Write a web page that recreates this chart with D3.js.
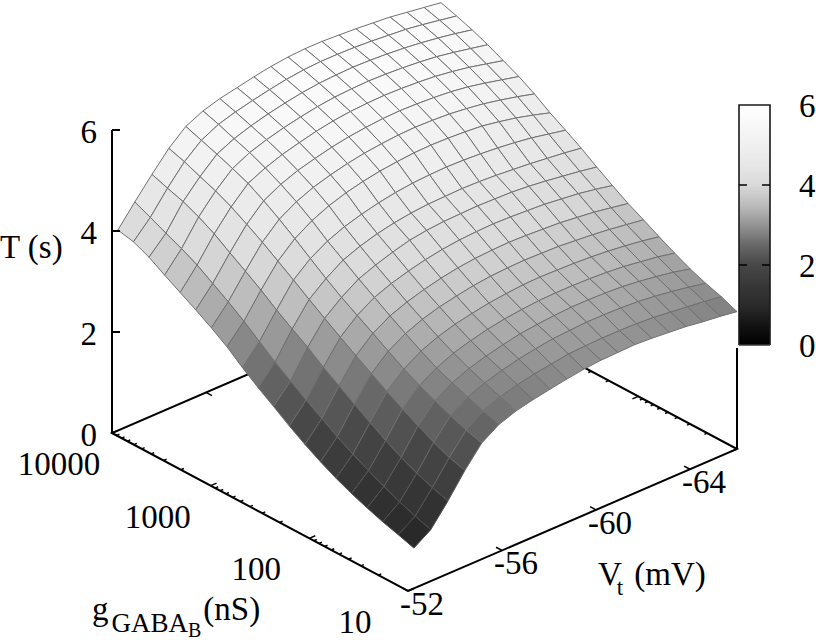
<!DOCTYPE html>
<html>
<head>
<meta charset="utf-8">
<script src="https://cdn.jsdelivr.net/npm/d3@7"></script>
<style>
  body { margin: 0; background: #fff; }
  text { font-family: "Liberation Serif", serif; font-size: 33px; fill: #000; }
</style>
</head>
<body>
<svg id="chart" width="816" height="640"></svg>
<script>
// grid the surface was sampled on
var vtGrid = [-52.25, -52.97, -53.70, -54.42, -55.14, -55.87, -56.59, -57.32, -58.04, -58.76,
              -59.49, -60.21, -60.93, -61.66, -62.38, -63.11, -63.83, -64.55, -65.28, -66];
var gGrid = [10000, 6952, 4833, 3360, 2336, 1624, 1129, 785, 546, 379,
             264, 183, 127, 88.6, 61.6, 42.8, 29.8, 20.7, 14.4, 10];

// T (s), one row per gGrid value, one column per vtGrid value
var periodRows = [
  [3.97,4.38,4.78,5.15,5.44,5.60,5.70,5.77,5.84,5.90,5.94,5.96,5.96,5.94,5.92,5.89,5.86,5.81,5.76,5.71],
  [3.90,4.24,4.67,5.05,5.33,5.50,5.60,5.68,5.75,5.81,5.85,5.87,5.87,5.86,5.84,5.81,5.78,5.73,5.67,5.61],
  [3.76,4.09,4.57,4.92,5.22,5.38,5.49,5.58,5.65,5.71,5.75,5.77,5.78,5.77,5.75,5.72,5.68,5.63,5.57,5.50],
  [3.57,3.95,4.43,4.80,5.10,5.27,5.38,5.47,5.54,5.60,5.64,5.66,5.67,5.66,5.64,5.61,5.57,5.51,5.44,5.37],
  [3.39,3.79,4.26,4.65,4.97,5.13,5.25,5.34,5.42,5.48,5.52,5.54,5.55,5.54,5.52,5.49,5.44,5.38,5.30,5.22],
  [3.21,3.59,4.05,4.47,4.79,4.97,5.10,5.19,5.27,5.33,5.37,5.40,5.41,5.40,5.38,5.35,5.30,5.23,5.15,5.07],
  [3.02,3.39,3.85,4.28,4.59,4.79,4.93,5.03,5.11,5.17,5.21,5.24,5.25,5.24,5.22,5.18,5.13,5.06,4.98,4.89],
  [2.81,3.17,3.64,4.07,4.37,4.58,4.73,4.84,4.92,4.98,5.02,5.05,5.06,5.05,5.03,5.00,4.94,4.87,4.78,4.68],
  [2.56,2.93,3.41,3.86,4.14,4.34,4.48,4.58,4.66,4.72,4.76,4.78,4.79,4.78,4.76,4.73,4.69,4.64,4.57,4.50],
  [2.33,2.69,3.20,3.64,3.91,4.13,4.26,4.36,4.43,4.48,4.51,4.52,4.53,4.52,4.50,4.47,4.44,4.40,4.36,4.31],
  [2.12,2.48,3.00,3.43,3.70,3.92,4.05,4.16,4.25,4.30,4.33,4.34,4.35,4.34,4.33,4.30,4.26,4.21,4.16,4.10],
  [1.90,2.27,2.77,3.22,3.51,3.72,3.85,3.95,4.03,4.09,4.13,4.15,4.16,4.15,4.13,4.11,4.07,4.03,3.97,3.90],
  [1.70,2.07,2.57,3.02,3.32,3.52,3.65,3.75,3.83,3.89,3.93,3.95,3.96,3.95,3.93,3.91,3.87,3.83,3.77,3.71],
  [1.52,1.87,2.37,2.83,3.13,3.33,3.47,3.57,3.64,3.70,3.74,3.76,3.77,3.76,3.75,3.72,3.69,3.65,3.60,3.55],
  [1.36,1.69,2.17,2.64,2.94,3.15,3.29,3.39,3.46,3.52,3.56,3.59,3.60,3.59,3.58,3.56,3.53,3.49,3.44,3.38],
  [1.22,1.53,1.98,2.46,2.78,2.98,3.13,3.23,3.31,3.37,3.41,3.44,3.45,3.45,3.44,3.42,3.39,3.34,3.29,3.22],
  [1.10,1.38,1.81,2.29,2.64,2.85,2.99,3.09,3.17,3.24,3.28,3.31,3.33,3.33,3.32,3.30,3.26,3.21,3.15,3.07],
  [0.99,1.24,1.66,2.13,2.51,2.73,2.87,2.97,3.05,3.11,3.16,3.18,3.20,3.20,3.19,3.17,3.13,3.08,3.02,2.95],
  [0.90,1.12,1.54,1.99,2.39,2.62,2.76,2.85,2.92,2.97,3.02,3.04,3.05,3.05,3.04,3.02,2.98,2.94,2.90,2.85],
  [0.80,1.02,1.44,1.90,2.30,2.52,2.64,2.72,2.78,2.84,2.89,2.92,2.93,2.94,2.92,2.89,2.86,2.81,2.77,2.72]
];

var zTicks = [0, 2, 4, 6];
var vtTicks = [-52, -56, -60, -64];
var gTicks = [10, 100, 1000, 10000];
var cbTicks = [0, 2, 4, 6];

// grey levels
var paletteValues = [0, 0.5, 1, 1.5, 2, 2.5, 3, 3.5, 4, 4.5, 5, 5.5, 6];
var paletteGreys = [0, 20, 43, 56, 72, 104, 148, 188, 217, 231, 240, 248, 255];

var svg = d3.select("#chart");

var vtScale = d3.scaleLinear().domain([-52, -66]).range([0, 1]);
var gScale = d3.scaleLog().domain([10, 10000]).range([0, 1]);
var zScale = d3.scaleLinear().domain([0, 6]).range([0, 303]);
var greyScale = d3.scaleLinear().domain(paletteValues).range(paletteGreys);
var cbScale = d3.scaleLinear().domain([0, 6]).range([345, 105]);

// gnuplot style view: front corner plus the two base edge vectors
var front = [408, 591], vtEdge = [329, -142], gEdge = [-296, -158];

function project(vt, g, t) {
  var a = vtScale(vt), b = gScale(g);
  return [front[0] + a * vtEdge[0] + b * gEdge[0],
          front[1] + a * vtEdge[1] + b * gEdge[1] - zScale(t)];
}

function grey(t) {
  var v = Math.round(greyScale(t));
  return "rgb(" + v + "," + v + "," + v + ")";
}

// grid lines fade into the dark cells
function lineGrey(t) {
  var v = Math.min(112, Math.round(greyScale(t)) + 34);
  return "rgb(" + v + "," + v + "," + v + ")";
}

var vtMin = vtScale.domain()[0], vtMax = vtScale.domain()[1];
var gMin = gScale.domain()[0], gMax = gScale.domain()[1];

// base of the box, goes behind the surface
var corners = [project(vtMin, gMax, 0), project(vtMin, gMin, 0), project(vtMax, gMin, 0), project(vtMax, gMax, 0)];
var axes = svg.append("g").attr("stroke", "#000").attr("stroke-width", 2).attr("fill", "none");
axes.append("path").attr("d", d3.line()(corners) + "Z");

function tick(p, dir, frac) {
  axes.append("line")
      .attr("x1", p[0]).attr("y1", p[1])
      .attr("x2", p[0] + dir[0] * frac).attr("y2", p[1] + dir[1] * frac)
      .attr("stroke-width", 1.5);
}

gScale.ticks().forEach(function(g) {
  var major = gTicks.indexOf(g) >= 0;
  var frac = major ? 0.018 : 0.009;
  tick(project(vtMin, g, 0), vtEdge, frac);
  tick(project(vtMax, g, 0), [-vtEdge[0], -vtEdge[1]], frac);
});

vtTicks.forEach(function(vt) {
  tick(project(vt, gMin, 0), gEdge, 0.02);
  tick(project(vt, gMax, 0), [-gEdge[0], -gEdge[1]], 0.02);
});

// surface cells, back to front
var cells = [];
d3.range(vtGrid.length - 2, -1, -1).forEach(function(i) {
  d3.range(0, gGrid.length - 1).forEach(function(n) {
    cells.push({i: i, n: n});
  });
});

function cellPoints(d) {
  return [[d.n, d.i], [d.n, d.i + 1], [d.n + 1, d.i + 1], [d.n + 1, d.i]].map(function(c) {
    return project(vtGrid[c[1]], gGrid[c[0]], periodRows[c[0]][c[1]]);
  });
}

function cellMean(d) {
  return (periodRows[d.n][d.i] + periodRows[d.n][d.i + 1] + periodRows[d.n + 1][d.i] + periodRows[d.n + 1][d.i + 1]) / 4;
}

svg.append("g").selectAll("polygon")
    .data(cells)
  .enter().append("polygon")
    .attr("points", function(d) { return cellPoints(d).join(" "); })
    .attr("fill", function(d) { return grey(cellMean(d)); })
    .attr("stroke", function(d) { return lineGrey(cellMean(d)); })
    .attr("stroke-width", 1)
    .attr("stroke-linejoin", "round");

// vertical axes
var zAxis = svg.append("g").attr("stroke", "#000").attr("stroke-width", 2);
zAxis.append("line")
    .attr("x1", project(vtMin, gMax, 0)[0]).attr("x2", project(vtMin, gMax, 0)[0])
    .attr("y1", project(vtMin, gMax, 0)[1]).attr("y2", project(vtMin, gMax, 6)[1]);
zAxis.append("line")
    .attr("x1", project(vtMax, gMin, 0)[0]).attr("x2", project(vtMax, gMin, 0)[0])
    .attr("y1", project(vtMax, gMin, 0)[1]).attr("y2", project(vtMax, gMin, 2)[1]);
zTicks.forEach(function(t) {
  var p = project(vtMin, gMax, t);
  if (t > 0) zAxis.append("line").attr("x1", p[0]).attr("x2", p[0] + 8).attr("y1", p[1]).attr("y2", p[1]);
});

// colour box
var cb = svg.append("g");
var cbLeft = 739, cbWidth = 31;
cb.selectAll("rect.slice")
    .data(d3.range(0, 6, 0.025))
  .enter().append("rect")
    .attr("class", "slice")
    .attr("x", cbLeft)
    .attr("y", function(d) { return cbScale(d + 0.025); })
    .attr("width", cbWidth)
    .attr("height", cbScale(0) - cbScale(0.025) + 0.5)
    .attr("fill", function(d) { return grey(d); });
cb.append("path")
    .attr("fill", "none").attr("stroke", "#1a1a1a").attr("stroke-width", 1.6)
    .attr("d", "M" + cbLeft + "," + cbScale(0) + "V" + cbScale(6) + "H" + (cbLeft + cbWidth) + "V" + cbScale(0));
cb.append("line")
    .attr("x1", cbLeft).attr("x2", cbLeft + cbWidth)
    .attr("y1", cbScale(0)).attr("y2", cbScale(0))
    .attr("stroke", "#555").attr("stroke-width", 1);
[2, 4].forEach(function(t) {
  [[cbLeft, cbLeft + 8], [cbLeft + cbWidth - 8, cbLeft + cbWidth]].forEach(function(x) {
    cb.append("line").attr("x1", x[0]).attr("x2", x[1])
      .attr("y1", cbScale(t)).attr("y2", cbScale(t))
      .attr("stroke", "#000").attr("stroke-width", 1.5);
  });
});

// tick labels
var labels = svg.append("g");
zTicks.forEach(function(t) {
  var p = project(vtMin, gMax, t);
  labels.append("text").attr("x", p[0] - 15).attr("y", p[1] + 13).attr("text-anchor", "end").text(t);
});
gTicks.forEach(function(g) {
  var p = project(vtMin, g, 0);
  labels.append("text").attr("x", p[0] - 53).attr("y", p[1] + 42).attr("text-anchor", "middle").text(g);
});
vtTicks.forEach(function(vt) {
  var p = project(vt, gMin, 0);
  labels.append("text").attr("x", p[0] + 14).attr("y", p[1] + 24).attr("text-anchor", "middle").text(vt);
});
cbTicks.forEach(function(t) {
  labels.append("text").attr("x", 799).attr("y", cbScale(t) + 12).text(t);
});

// axis titles
labels.append("text").attr("x", 0).attr("y", 258).text("T (s)");

var vtTitle = labels.append("text").attr("x", 598).attr("y", 585);
vtTitle.append("tspan").text("V");
vtTitle.append("tspan").attr("dx", -5).attr("dy", 10).style("font-size", "23px").text("t");
vtTitle.append("tspan").attr("dx", 11).attr("dy", -10).text("(mV)");

var gTitle = labels.append("text").attr("x", 92).attr("y", 620);
gTitle.append("tspan").text("g");
gTitle.append("tspan").attr("dx", 3).attr("dy", 12).style("font-size", "27px").text("GABA");
gTitle.append("tspan").attr("dy", 5).style("font-size", "20px").text("B");
gTitle.append("tspan").attr("dx", 2).attr("dy", -17).text("(nS)");
</script>
</body>
</html>
